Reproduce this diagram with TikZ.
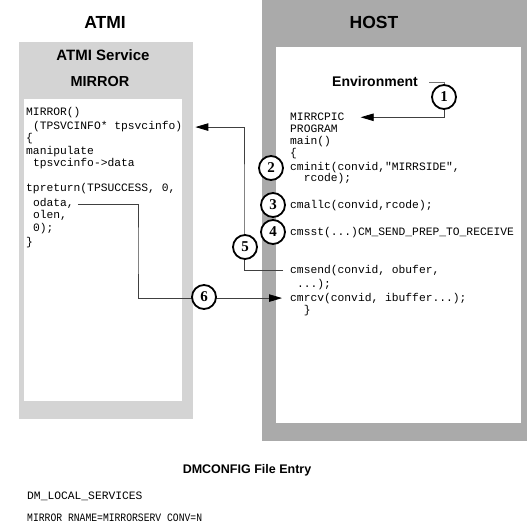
\documentclass[tikz,border=0pt]{standalone}
\usepackage{fontspec}
\setmainfont{Liberation Serif}
\setsansfont{Liberation Sans}
\setmonofont{Liberation Mono}
\newfontfamily\monocond[FakeStretch=0.86]{Liberation Mono}
\usetikzlibrary{arrows.meta}
\definecolor{atmigray}{HTML}{D4D4D4}
\definecolor{hostgray}{HTML}{AAAAAA}
\pgfdeclarelayer{boxes}
\pgfdeclarelayer{lines}
\pgfsetlayers{boxes,lines,main}
\begin{document}
\begin{tikzpicture}[x=1pt,y=-1pt,
  bigtitle/.style={font=\sffamily\bfseries\fontsize{17.5}{20}\selectfont, inner sep=0},
  subtitle/.style={font=\sffamily\bfseries\fontsize{15}{18}\selectfont, inner sep=0},
  codeline/.style={font=\ttfamily\fontsize{11.3}{13}\selectfont, inner sep=0, anchor=base west},
  stepcircle/.style={circle, draw=black, line width=1.8pt, fill=white, minimum size=24pt, inner sep=0,
    font=\rmfamily\bfseries\fontsize{15}{15}\selectfont},
  conn/.style={draw=black!75, line width=0.8pt},
  envconn/.style={draw=black!55, line width=0.8pt},
  tip/.style={-{Triangle[length=13pt,width=7.5pt,color=black]}}
]
\useasboundingbox (0,0) rectangle (529,526);

% boxes
\begin{pgfonlayer}{boxes}
\fill[atmigray] (19,42) rectangle (193,419);
\fill[white] (24,99) rectangle (182,401);
\fill[hostgray] (262,0) rectangle (527,441);
\fill[white] (276,47) rectangle (521,423);
\end{pgfonlayer}

% titles
\node[bigtitle] (atmititle) at (105,22) {ATMI};
\node[bigtitle] (hosttitle) at (374,22) {HOST};
\node[subtitle] (svc) at (103,55) {ATMI Service};
\node[subtitle, font=\sffamily\bfseries\fontsize{14.5}{18}\selectfont] (mirror) at (100,82) {MIRROR};
\node[subtitle, font=\sffamily\bfseries\fontsize{14}{18}\selectfont] (env) at (375,81) {Environment};

% ATMI code
\node[codeline] (a1) at (26,116) {MIRROR()};
\node[codeline] (tpsvc) at (32.8,130) {(TPSVCINFO* tpsvcinfo)};
\node[codeline] (a3) at (26,142) {\{};
\node[codeline] (a4) at (26,155) {manipulate};
\node[codeline] (a5) at (32.8,167) {tpsvcinfo->data};
\node[codeline] (a6) at (26,192) {tpreturn(TPSUCCESS, 0,};
\node[codeline] (odata) at (32.8,207) {odata,};
\node[codeline] (a8) at (32.8,219) {olen,};
\node[codeline] (a9) at (32.8,232) {0);};
\node[codeline] (a10) at (26,246) {\}};

% HOST code
\node[codeline] (mirrcpic) at (290,121) {MIRRCPIC};
\node[codeline] (h2) at (290,133) {PROGRAM};
\node[codeline] (h3) at (290,145) {main()};
\node[codeline] (h4) at (290,157) {\{};
\node[codeline] (cminit) at (290,171) {cminit(convid,"MIRRSIDE",};
\node[codeline] (h6) at (303.6,182) {rcode);};
\node[codeline] (cmallc) at (290,209) {cmallc(convid,rcode);};
\node[codeline] (cmsst) at (290,236) {cmsst(...)CM\_SEND\_PREP\_TO\_RECEIVE};
\node[codeline] (cmsend) at (290,273) {cmsend(convid, obufer,};
\node[codeline] (h10) at (296.8,287) {...);};
\node[codeline] (cmrcv) at (290,301) {cmrcv(convid, ibuffer...);};
\node[codeline] (h12) at (303.6,313) {\}};

% DMCONFIG
\node[subtitle, font=\sffamily\bfseries\fontsize{12.5}{15}\selectfont] (dmtitle) at (247,470) {DMCONFIG File Entry};
\node[codeline] (dm1) at (27,499) {DM\_LOCAL\_SERVICES};
\node[codeline, font=\monocond\fontsize{11.3}{13}\selectfont] (dm2) at (27,521) {MIRROR RNAME=MIRRORSERV CONV=N};

% circles
\node[stepcircle] (c1) at (444,97) {1};
\node[stepcircle] (c2) at (271,168) {2};
\node[stepcircle] (c3) at (273,205) {3};
\node[stepcircle] (c4) at (273,232) {4};
\node[stepcircle] (c5) at (245,247) {5};
\node[stepcircle] (c6) at (204,297) {6};

% connectors
\coordinate (envout) at (429,82);
\coordinate (bend5) at (244,200);
\coordinate (bend6) at (138,250);
\begin{pgfonlayer}{lines}
\draw[envconn] (envout) -| (c1.center);
\draw[conn,tip] (c1.center) |- ([xshift=16pt]mirrcpic.east);
\draw[conn,tip] ([xshift=-7pt]cmsend.west) -| (bend5) |- ([xshift=13pt]tpsvc.east);
\draw[conn,tip] ([xshift=4pt]odata.east) -| (bend6) |- ([xshift=-8pt]cmrcv.west);
\end{pgfonlayer}
\end{tikzpicture}
\end{document}
